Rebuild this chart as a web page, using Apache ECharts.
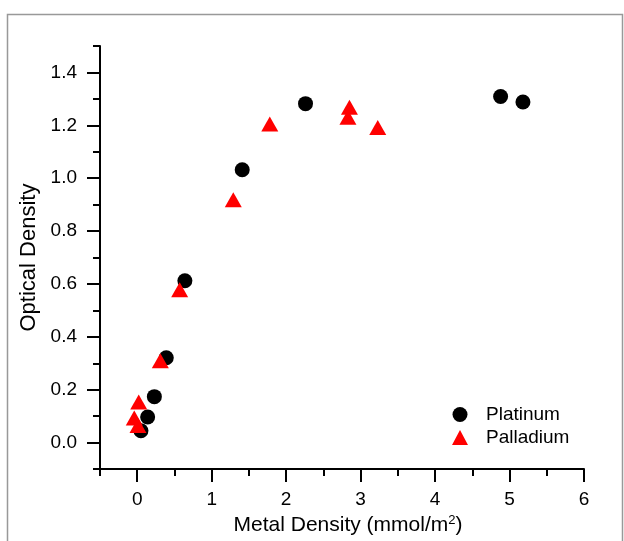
<!DOCTYPE html>
<html>
<head>
<meta charset="utf-8">
<script src="https://cdn.jsdelivr.net/npm/echarts@6/dist/echarts.min.js"></script>
<style>
html,body{margin:0;padding:0;background:#fff;}
#chart{width:624px;height:541px;}
</style>
</head>
<body>
<div id="chart"></div>
<script>
// ---- data ----
const platinumX = [0.05, 0.14, 0.23, 0.39, 0.64, 1.41, 2.26, 4.88, 5.18];
const platinumY = [0.045, 0.097, 0.174, 0.321, 0.612, 1.032, 1.282, 1.309, 1.288];
const palladiumX = [-0.04, 0.01, 0.02, 0.31, 0.57, 1.29, 1.78, 2.83, 2.85, 3.23];
const palladiumY = [0.093, 0.065, 0.154, 0.31, 0.578, 0.919, 1.205, 1.231, 1.268, 1.192];
const xMajorTicks = [0, 1, 2, 3, 4, 5, 6];
const xMinorTicks = [-0.5, 0.5, 1.5, 2.5, 3.5, 4.5, 5.5];
const yMajorTicks = [0, 0.2, 0.4, 0.6, 0.8, 1.0, 1.2, 1.4];
const yMinorTicks = [-0.1, 0.1, 0.3, 0.5, 0.7, 0.9, 1.1, 1.3, 1.5];
const seriesNames = ['Platinum', 'Palladium'];
const xTitle = 'Metal Density (mmol/m{sup|2})';
const yTitle = 'Optical Density';

const FONT = '"Liberation Sans", Arial, sans-serif';
const zip = (xs, ys) => xs.map((x, i) => [x, ys[i]]);

const chart = echarts.init(document.getElementById('chart'), null, {renderer: 'canvas'});
const axisLineStyle = {color: '#000', width: 2};

function tickAxis(kind, min, max, values, len) {
  const pos = kind === 'x' ? 'bottom' : 'left';
  return {
    type: 'value', min: min, max: max, position: pos,
    axisLine: {show: false, onZero: false},
    axisTick: {show: true, inside: false, length: len, lineStyle: {color: '#000', width: 2}, customValues: values},
    axisLabel: {show: false},
    splitLine: {show: false}
  };
}

const option = {
  animation: false,
  backgroundColor: '#fff',
  textStyle: {fontFamily: FONT},
  graphic: [{
    type: 'rect', left: 5, top: 12, silent: true,
    shape: {x: 0, y: 0, width: 615, height: 560},
    style: {fill: 'none', stroke: '#999', lineWidth: 1.5}
  }],
  grid: {left: 100, right: 40, top: 46, bottom: 71, containLabel: false},
  legend: {
    orient: 'vertical', left: 447, top: 400,
    itemWidth: 16, itemHeight: 15, itemGap: 4,
    textStyle: {fontSize: 19, color: '#000', fontFamily: FONT, padding: [0, 0, 0, 13]},
    data: [{name: seriesNames[0], icon: 'circle'}, {name: seriesNames[1], icon: 'triangle'}]
  },
  xAxis: [{
    type: 'value', min: -0.5, max: 6, position: 'bottom',
    name: xTitle, nameLocation: 'middle', nameGap: 44,
    nameTextStyle: {fontSize: 21, color: '#000', fontFamily: FONT, padding: [0, 0, 0, 12],
      rich: {sup: {fontSize: 13, verticalAlign: 'top', padding: [0, 0, 10, 0], color: '#000', fontFamily: FONT}}},
    axisLine: {show: true, onZero: false, lineStyle: axisLineStyle},
    axisTick: {show: false},
    axisLabel: {show: true, margin: 21, fontSize: 19, color: '#000', fontFamily: FONT, customValues: xMajorTicks},
    splitLine: {show: false}
  },
    tickAxis('x', -0.5, 6, xMajorTicks, 13),
    tickAxis('x', -0.5, 6, xMinorTicks, 7)
  ],
  yAxis: [{
    type: 'value', min: -0.1, max: 1.5, position: 'left',
    name: yTitle, nameLocation: 'middle', nameGap: 51, nameRotate: 90,
    nameTextStyle: {fontSize: 22, color: '#000', fontFamily: FONT},
    axisLine: {show: true, onZero: false, lineStyle: axisLineStyle},
    axisTick: {show: false},
    axisLabel: {show: true, margin: 23, fontSize: 19, color: '#000', fontFamily: FONT,
      customValues: yMajorTicks, formatter: v => v.toFixed(1)},
    splitLine: {show: false}
  },
    tickAxis('y', -0.1, 1.5, yMajorTicks, 13),
    tickAxis('y', -0.1, 1.5, yMinorTicks, 7)
  ],
  series: [{
    name: seriesNames[0], type: 'scatter', xAxisIndex: 0, yAxisIndex: 0,
    symbol: 'circle', symbolSize: 15,
    itemStyle: {color: '#000', opacity: 1},
    data: zip(platinumX, platinumY)
  }, {
    name: seriesNames[1], type: 'scatter', xAxisIndex: 0, yAxisIndex: 0,
    symbol: 'triangle', symbolSize: [17, 15],
    itemStyle: {color: '#ff0000', opacity: 1},
    data: zip(palladiumX, palladiumY)
  }]
};
chart.setOption(option);
</script>
</body>
</html>
